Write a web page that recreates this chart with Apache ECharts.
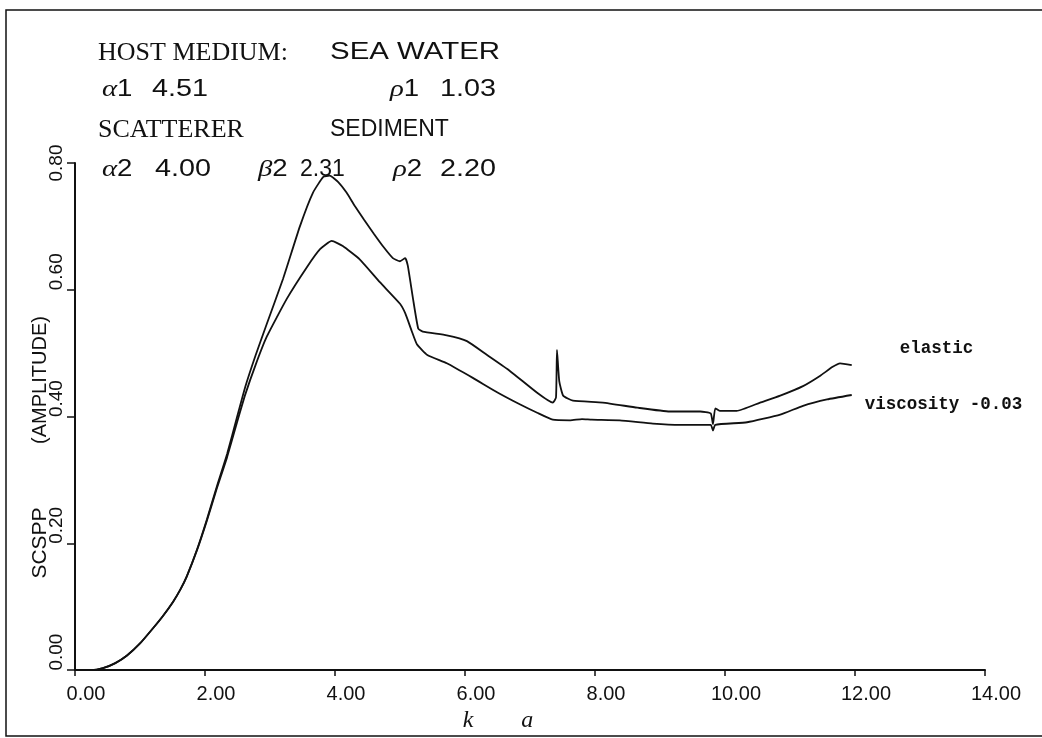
<!DOCTYPE html>
<html>
<head>
<meta charset="utf-8">
<script src="https://cdn.jsdelivr.net/npm/echarts@6/dist/echarts.min.js"></script>
<style>
  html, body { margin: 0; padding: 0; background: #fff; }
  #chart { width: 1042px; height: 738px; }
</style>
</head>
<body>
<div id="chart"></div>
<script>
// Scattering amplitude vs. k·a for an elastic and a viscous sediment sphere in sea water
const elasticKa = [0.00, 0.25, 0.43, 0.62, 0.80, 1.00, 1.20, 1.35, 1.51, 1.62, 1.72, 1.88, 2.03, 2.18, 2.34, 2.49, 2.62, 2.78, 2.95, 3.20, 3.46, 3.66, 3.82, 3.92, 4.05, 4.18, 4.30, 4.45, 4.60, 4.75, 4.89, 5.00, 5.08, 5.12, 5.20, 5.28, 5.35, 5.72, 6.03, 6.34, 6.69, 7.11, 7.35, 7.40, 7.415, 7.45, 7.51, 7.66, 8.12, 8.65, 9.15, 9.62, 9.78, 9.815, 9.85, 9.92, 10.18, 10.54, 10.85, 11.20, 11.46, 11.65, 11.77, 11.95];
const elasticAmp = [0.000, 0.000, 0.003, 0.011, 0.023, 0.042, 0.066, 0.085, 0.108, 0.127, 0.148, 0.191, 0.238, 0.289, 0.341, 0.398, 0.447, 0.497, 0.546, 0.617, 0.700, 0.753, 0.778, 0.780, 0.770, 0.753, 0.733, 0.710, 0.688, 0.667, 0.650, 0.645, 0.650, 0.638, 0.586, 0.539, 0.534, 0.528, 0.519, 0.497, 0.472, 0.4375, 0.422, 0.430, 0.505, 0.456, 0.433, 0.425, 0.422, 0.414, 0.408, 0.408, 0.405, 0.388, 0.413, 0.409, 0.409, 0.422, 0.433, 0.448, 0.464, 0.478, 0.484, 0.481];

const viscousKa = [0.00, 0.25, 0.43, 0.62, 0.80, 1.00, 1.20, 1.35, 1.51, 1.62, 1.72, 1.88, 2.03, 2.18, 2.34, 2.49, 2.62, 2.78, 2.95, 3.26, 3.57, 3.77, 3.95, 4.12, 4.38, 4.69, 5.00, 5.08, 5.18, 5.26, 5.42, 5.72, 6.12, 6.50, 6.85, 7.11, 7.35, 7.62, 7.80, 7.95, 8.38, 8.89, 9.31, 9.78, 9.815, 9.85, 10.34, 10.85, 11.20, 11.57, 11.95];
const viscousAmp = [0.000, 0.000, 0.003, 0.011, 0.023, 0.042, 0.066, 0.085, 0.108, 0.127, 0.148, 0.190, 0.236, 0.286, 0.336, 0.390, 0.435, 0.482, 0.526, 0.586, 0.636, 0.664, 0.677, 0.669, 0.648, 0.612, 0.578, 0.563, 0.535, 0.514, 0.497, 0.484, 0.461, 0.438, 0.419, 0.406, 0.395, 0.394, 0.396, 0.395, 0.394, 0.389, 0.387, 0.387, 0.378, 0.387, 0.391, 0.403, 0.417, 0.427, 0.434];

const seriesNames = ['elastic', 'viscosity -0.03'];
const xTickLabels = ['0.00', '2.00', '4.00', '6.00', '8.00', '10.00', '12.00', '14.00'];
const yTickLabels = ['0.00', '0.20', '0.40', '0.60', '0.80'];

const zip = (xs, ys) => xs.map((x, i) => [x, ys[i]]);

const sansFont = "'Liberation Sans', 'DejaVu Sans', sans-serif";
const serifFont = "'Liberation Serif', 'DejaVu Serif', serif";
const monoFont = "'Liberation Mono', 'DejaVu Sans Mono', monospace";
const ink = '#111';

// plain header word(s)
function word(x, y, text, font, size, scaleX) {
  return {
    type: 'text', x: x, y: y, scaleX: scaleX || 1,
    style: { text: text, fill: ink, fontFamily: font, fontSize: size, align: 'left', verticalAlign: 'middle' }
  };
}
// material parameter: italic greek symbol + index, then its value
function param(xSym, xVal, y, greek, index, value, valScale) {
  return [
    {
      type: 'text', x: xSym, y: y, scaleX: 1.2,
      style: {
        text: '{g|' + greek + '}' + index,
        fill: ink, fontFamily: sansFont, fontSize: 23, align: 'left', verticalAlign: 'middle',
        rich: { g: { fontStyle: 'italic', fontFamily: serifFont, fontSize: 24, fill: ink } }
      }
    },
    word(xVal, y, value, sansFont, 23, valScale || 1.25)
  ];
}

const chart = echarts.init(document.getElementById('chart'), null, { renderer: 'canvas' });

chart.setOption({
  backgroundColor: '#fff',
  animation: false,
  grid: { left: 75, right: 57, top: 163, bottom: 63, containLabel: false },
  xAxis: {
    type: 'value',
    min: 0, max: 14, interval: 2,
    name: 'k        a',
    nameLocation: 'middle',
    nameGap: 38,
    nameTextStyle: {
      fontFamily: serifFont, fontStyle: 'italic', fontSize: 24, color: ink,
      padding: [0, 64, 0, 0]
    },
    axisLine: { lineStyle: { color: ink, width: 2 } },
    axisTick: { inside: false, length: 6, lineStyle: { color: ink, width: 1.5 } },
    axisLabel: {
      margin: 14,
      fontFamily: sansFont, fontSize: 20, color: ink,
      padding: [0, 0, 0, 22],
      formatter: v => xTickLabels[Math.round(v / 2)]
    },
    splitLine: { show: false }
  },
  yAxis: {
    type: 'value',
    min: 0, max: 0.8, interval: 0.2,
    axisLine: { show: true, lineStyle: { color: ink, width: 2 } },
    axisTick: { show: true, inside: false, length: 8, lineStyle: { color: ink, width: 1.5 } },
    axisLabel: {
      rotate: 90,
      align: 'center',
      verticalAlign: 'bottom',
      margin: 9,
      fontFamily: sansFont, fontSize: 19, color: ink,
      // lower labels sit just above their tick, the top one is centred on it
      formatter: v => {
        const i = Math.round(v / 0.2);
        return i < yTickLabels.length - 1 ? '{up|' + yTickLabels[i] + '}' : '{mid|' + yTickLabels[i] + '}';
      },
      rich: {
        up: { fontFamily: sansFont, fontSize: 19, color: ink, padding: [0, 0, 0, 36] },
        mid: { fontFamily: sansFont, fontSize: 19, color: ink }
      }
    },
    splitLine: { show: false }
  },
  series: [
    {
      name: seriesNames[0],
      type: 'line',
      data: zip(elasticKa, elasticAmp),
      showSymbol: false,
      smooth: 0.15,
      lineStyle: { color: ink, width: 1.8 },
      endLabel: {
        show: true,
        formatter: seriesNames[0],
        offset: [40, -17],
        fontFamily: monoFont, fontWeight: 'bold', fontSize: 17.5, color: ink
      }
    },
    {
      name: seriesNames[1],
      type: 'line',
      data: zip(viscousKa, viscousAmp),
      showSymbol: false,
      smooth: 0.15,
      lineStyle: { color: ink, width: 1.8 },
      endLabel: {
        show: true,
        formatter: seriesNames[1],
        offset: [5, 10],
        fontFamily: monoFont, fontWeight: 'bold', fontSize: 17.5, color: ink
      }
    }
  ],
  graphic: [
    // outer frame
    {
      type: 'rect',
      shape: { x: 6, y: 10, width: 1100, height: 726 },
      style: { fill: 'none', stroke: ink, lineWidth: 1.5 },
      silent: true
    },
    // y axis title
    {
      type: 'text', x: 40, y: 543, rotation: Math.PI / 2,
      style: { text: 'SCSPP', fill: ink, fontFamily: sansFont, fontSize: 21, align: 'center', verticalAlign: 'middle' }
    },
    {
      type: 'text', x: 40, y: 380, rotation: Math.PI / 2,
      style: { text: '(AMPLITUDE)', fill: ink, fontFamily: sansFont, fontSize: 20, align: 'center', verticalAlign: 'middle' }
    },
    // material parameters block
    word(98, 53, 'HOST MEDIUM:', serifFont, 26),
    word(330, 53, 'SEA WATER', sansFont, 23, 1.28),
    ...param(102, 152, 90, 'α', '1', '4.51'),
    ...param(390, 440, 90, 'ρ', '1', '1.03'),
    word(98, 130, 'SCATTERER', serifFont, 26),
    word(330, 130, 'SEDIMENT', sansFont, 23),
    ...param(102, 155, 170, 'α', '2', '4.00'),
    ...param(258, 300, 170, 'β', '2', '2.31', 1.0),
    ...param(393, 440, 170, 'ρ', '2', '2.20')
  ]
});
</script>
</body>
</html>
